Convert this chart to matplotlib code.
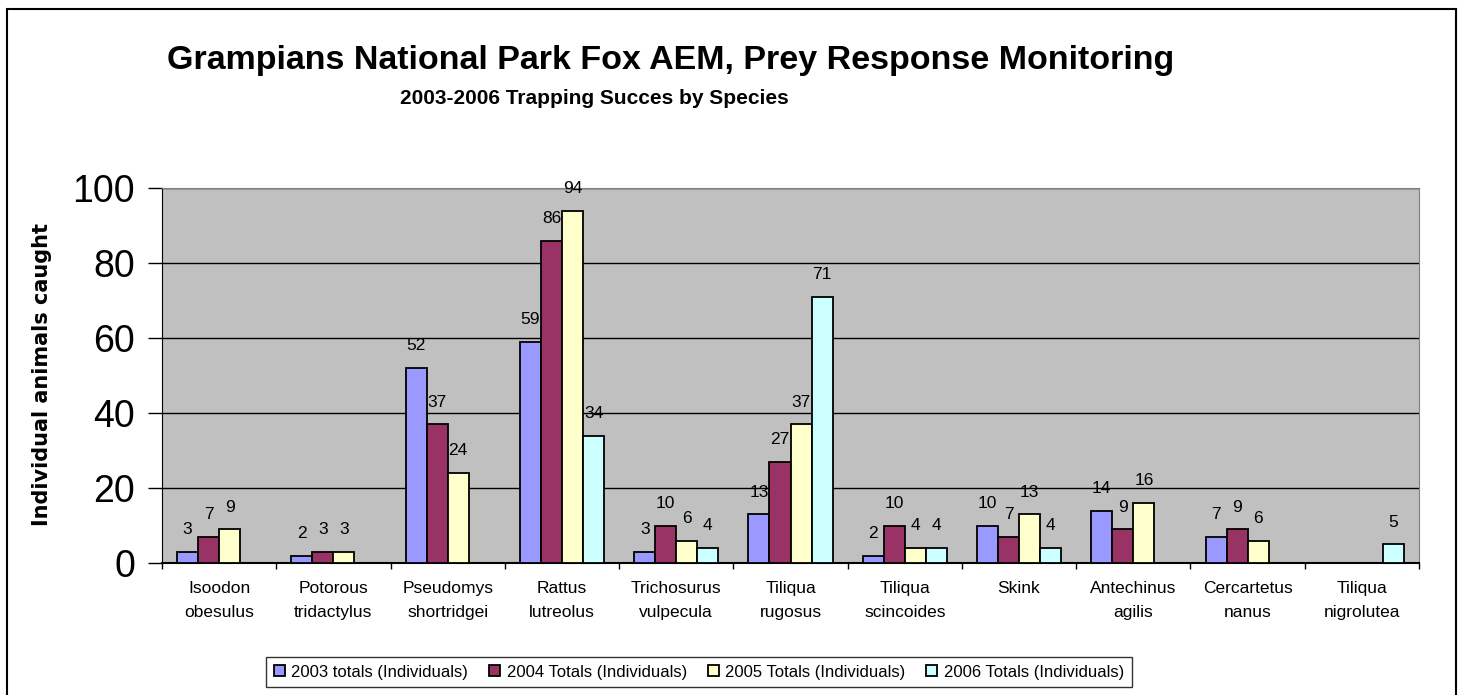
import numpy as np
import matplotlib
matplotlib.use("Agg")
import matplotlib.pyplot as plt
from matplotlib.patches import Rectangle

plt.rcParams['font.family'] = ['Liberation Sans', 'DejaVu Sans']

species = ["Isoodon\nobesulus", "Potorous\ntridactylus", "Pseudomys\nshortridgei",
           "Rattus\nlutreolus", "Trichosurus\nvulpecula", "Tiliqua\nrugosus",
           "Tiliqua\nscincoides", "Skink", "Antechinus\nagilis",
           "Cercartetus\nnanus", "Tiliqua\nnigrolutea"]
nan = np.nan
y2003 = [3, 2, 52, 59, 3, 13, 2, 10, 14, 7, nan]
y2004 = [7, 3, 37, 86, 10, 27, 10, 7, 9, 9, nan]
y2005 = [9, 3, 24, 94, 6, 37, 4, 13, 16, 6, nan]
y2006 = [nan, nan, nan, 34, 4, 71, 4, 4, nan, nan, 5]
series_names = ["2003 totals (Individuals)", "2004 Totals (Individuals)",
                "2005 Totals (Individuals)", "2006 Totals (Individuals)"]
colors = ["#9999FF", "#993366", "#FFFFCC", "#CCFFFF"]

fig = plt.figure(figsize=(14.62, 6.95), dpi=100)
ax = fig.add_axes([162/1462, 1-563/695, (1419-162)/1462, (563-188)/695])
ax.set_facecolor("#C0C0C0")

x = np.arange(len(species))
w = 0.184
handles = []
for i, (vals, c, name) in enumerate(zip([y2003, y2004, y2005, y2006], colors, series_names)):
    pos = x + (i - 1.5) * w
    b = ax.bar(pos, vals, w, color=c, edgecolor="black", linewidth=1.3, label=name, zorder=3)
    handles.append(b)
    for px, v in zip(pos, vals):
        if not np.isnan(v):
            ax.text(px, v + 5.9, f"{v:g}", ha="center", va="center", fontsize=12.5, zorder=4)

ax.set_xlim(-0.5, len(species) - 0.5)
ax.set_ylim(0, 100)
ax.set_yticks([0, 20, 40, 60, 80, 100])
ax.yaxis.grid(True, color="black", linewidth=1, zorder=0)
ax.tick_params(axis="y", labelsize=27, length=10, width=1, direction="out", pad=9.5)

ax.set_xticks(x)
ax.set_xticklabels(species, fontsize=12.5, linespacing=1.75)
ax.tick_params(axis="x", length=0, pad=13)
ax.set_xticks(np.arange(-0.5, len(species)), minor=True)
ax.tick_params(axis="x", which="minor", length=4, width=1, direction="out")

for s in ["top", "right"]:
    ax.spines[s].set_color("#808080")
ax.spines["left"].set_color("black")
ax.spines["bottom"].set_color("black")
ax.spines["bottom"].set_linewidth(1.5)

fig.text(42/1462, 1-375/695, "Individual animals caught", rotation=90,
         ha="center", va="center", fontsize=15, fontweight="bold", family="DejaVu Sans")

fig.text(671/1462, 1-60/695, "Grampians National Park Fox AEM, Prey Response Monitoring",
         ha="center", va="center", fontsize=24.5, fontweight="bold")
fig.text(594/1462, 1-99/695, "2003-2006 Trapping Succes by Species",
         ha="center", va="center", fontsize=15, fontweight="bold")

leg = fig.legend(handles=handles, loc="center", bbox_to_anchor=(699/1462, 1-672/695),
                 ncol=4, fontsize=12, frameon=True, fancybox=False, edgecolor="black",
                 handlelength=0.65, handleheight=0.65, handletextpad=0.4, columnspacing=1.25,
                 borderpad=0.45)
leg.get_frame().set_linewidth(1)

fig.patches.append(Rectangle((7/1462, -0.05), (1456-7)/1462, 1.05 - 9/695,
                             transform=fig.transFigure, fill=False, edgecolor="black",
                             linewidth=1.5))

fig.savefig("out.png", dpi=100)
